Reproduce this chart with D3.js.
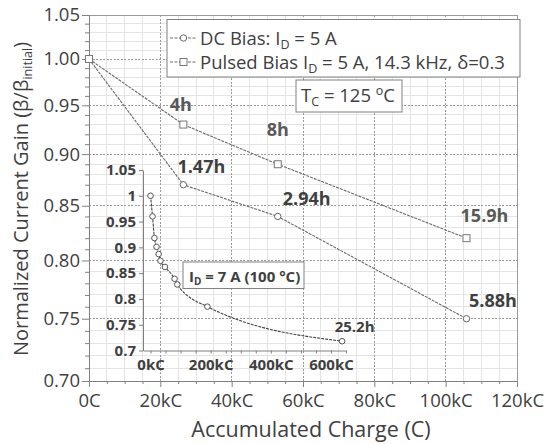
<!DOCTYPE html>
<html>
<head>
<meta charset="utf-8">
<script src="https://cdn.jsdelivr.net/npm/d3@7"></script>
<style>
  html, body { margin: 0; padding: 0; background: #fff; }
  svg { display: block; font-family: "Open Sans", sans-serif; }
</style>
</head>
<body>
<svg id="chart" width="545" height="444"></svg>
<script>
// Accumulated charge (kC) at each stress duration
const chargeKC = [0, 26.46, 52.92, 105.84];
// DC bias, I_D = 5 A
const dcGain = [1.00, 0.87, 0.84, 0.75];
const dcHours = ["", "1.47h", "2.94h", "5.88h"];
// Pulsed bias, I_D = 5 A, 14.3 kHz, duty 0.3
const pulsedGain = [1.00, 0.93, 0.89, 0.82];
const pulsedHours = ["", "4h", "8h", "15.9h"];

// Inset: I_D = 7 A at 100 °C
const insetChargeKC = [0, 6.7, 13, 20, 27, 33, 48, 80, 89, 189, 637];
const insetGain = [1.00, 0.96, 0.918, 0.901, 0.887, 0.874, 0.862, 0.839, 0.828, 0.785, 0.718];
const insetHours = ["", "", "", "", "", "", "", "", "", "", "25.2h"];

// Axis ticks
const xMajorTicks = [0, 20, 40, 60, 80, 100, 120];
const xTickLabels = ["0C", "20kC", "40kC", "60kC", "80kC", "100kC", "120kC"];
const yMajorTicks = [0.70, 0.75, 0.80, 0.85, 0.90, 0.95, 1.00, 1.05];
const yTickLabels = ["0.70", "0.75", "0.80", "0.85", "0.90", "0.95", "1.00", "1.05"];
const insetXTicks = [0, 50, 100, 150, 200, 250, 300, 350, 400, 450, 500, 550, 600, 650];
const insetXLabels = { 0: "0kC", 200: "200kC", 400: "400kC", 600: "600kC" };
const insetYTicks = [0.70, 0.75, 0.80, 0.85, 0.90, 0.95, 1.00, 1.05];
const insetYLabels = ["0.7", "0.75", "0.8", "0.85", "0.9", "0.95", "1", "1.05"];

const svg = d3.select("#chart");
const TEXT = "#404040";
const LINE = "#6a6a6a";

const x = d3.scaleLinear().domain([0, 120]).range([89, 517]);
const y = d3.scaleLog().domain([0.70, 1.05]).range([381, 15]);

const [x0, x1] = x.range();
const [yb, yt] = y.range();

// minor ticks / gridlines
const xMinor = d3.range(5, 120, 5).filter(v => v % 20 !== 0);
const yMinor = d3.range(71, 105).map(v => v / 100).filter(v => Math.round(v * 100) % 5 !== 0);

const grid = svg.append("g");
grid.selectAll(".vmin").data(xMinor).join("line")
  .attr("x1", d => x(d)).attr("x2", d => x(d)).attr("y1", yt).attr("y2", yb)
  .attr("stroke", "#e4e4e4").attr("stroke-width", 1).attr("shape-rendering", "crispEdges");
grid.selectAll(".hmin").data(yMinor).join("line")
  .attr("y1", d => y(d)).attr("y2", d => y(d)).attr("x1", x0).attr("x2", x1)
  .attr("stroke", "#e4e4e4").attr("stroke-width", 1).attr("shape-rendering", "crispEdges");
grid.selectAll(".vmaj").data(xMajorTicks.slice(1, -1)).join("line")
  .attr("x1", d => x(d)).attr("x2", d => x(d)).attr("y1", yt).attr("y2", yb)
  .attr("stroke", "#9a9a9a").attr("stroke-dasharray", "2,1.5").attr("shape-rendering", "crispEdges");
grid.selectAll(".hmaj").data(yMajorTicks.slice(1, -1)).join("line")
  .attr("y1", d => y(d)).attr("y2", d => y(d)).attr("x1", x0).attr("x2", x1)
  .attr("stroke", "#9a9a9a").attr("stroke-dasharray", "2,1.5").attr("shape-rendering", "crispEdges");

// plot frame (top and right)
svg.append("path")
  .attr("d", `M${x0},${yt}H${x1}V${yb}`)
  .attr("fill", "none").attr("stroke", "#9a9a9a").attr("shape-rendering", "crispEdges");

// axes
function styleAxis(g) {
  g.selectAll("path.domain").attr("stroke", "#808080");
  g.selectAll(".tick line").attr("stroke", "#808080");
  g.selectAll("text").attr("fill", TEXT).attr("font-family", "'Open Sans', sans-serif");
}

const xAxisMinor = svg.append("g").attr("transform", `translate(0,${yb})`)
  .call(d3.axisBottom(x).tickValues(xMinor).tickSize(3).tickFormat(""));
xAxisMinor.select(".domain").remove();
xAxisMinor.selectAll("line").attr("stroke", "#808080");

const xAxis = svg.append("g").attr("transform", `translate(0,${yb})`)
  .call(d3.axisBottom(x).tickValues(xMajorTicks).tickSize(6).tickSizeOuter(0).tickPadding(7)
    .tickFormat((d, i) => xTickLabels[i]));
xAxis.selectAll("text").attr("font-size", 18.5);
styleAxis(xAxis);

const yAxisMinor = svg.append("g").attr("transform", `translate(${x0},0)`)
  .call(d3.axisLeft(y).tickValues(yMinor).tickSize(4).tickFormat(""));
yAxisMinor.select(".domain").remove();
yAxisMinor.selectAll("line").attr("stroke", "#808080");

const yAxis = svg.append("g").attr("transform", `translate(${x0},0)`)
  .call(d3.axisLeft(y).tickValues(yMajorTicks).tickSize(7).tickSizeOuter(0).tickPadding(2)
    .tickFormat((d, i) => yTickLabels[i]));
yAxis.selectAll("text").attr("font-size", 18.5);
styleAxis(yAxis);

// axis titles
svg.append("text")
  .attr("x", (x0 + x1) / 2 + 8).attr("y", 437)
  .attr("text-anchor", "middle").attr("font-size", 21.5).attr("fill", TEXT)
  .text("Accumulated Charge (C)");

const yTitle = svg.append("text")
  .attr("transform", "rotate(-90)")
  .attr("x", -199).attr("y", 27.5)
  .attr("text-anchor", "middle").attr("font-size", 20).attr("fill", TEXT);
yTitle.append("tspan").text("Normalized Current Gain (β/β");
yTitle.append("tspan").attr("font-size", 12.5).attr("baseline-shift", "-4").text("initial");
yTitle.append("tspan").text(")");

// ---------- inset ----------
const ix = d3.scaleLinear().domain([-25, 650]).range([143, 346]);
const iy = d3.scaleLinear().domain([0.70, 1.05]).range([350.5, 170]);

const ixAxis = svg.append("g").attr("transform", `translate(0,${iy.range()[0]})`)
  .call(d3.axisBottom(ix).tickValues(insetXTicks).tickSize(3).tickSizeOuter(0).tickPadding(6)
    .tickFormat(d => insetXLabels[d] || ""));
ixAxis.selectAll("text").attr("font-size", 15).attr("font-weight", "bold");
styleAxis(ixAxis);

const iyAxis = svg.append("g").attr("transform", `translate(${ix.range()[0]},0)`)
  .call(d3.axisLeft(iy).tickValues(insetYTicks).tickSize(4).tickSizeOuter(0).tickPadding(3)
    .tickFormat((d, i) => insetYLabels[i]));
iyAxis.selectAll("text").attr("font-size", 15).attr("font-weight", "bold");
styleAxis(iyAxis);

const insetPts = insetChargeKC.map((c, i) => ({ c, g: insetGain[i], h: insetHours[i] }));
svg.append("path")
  .datum(insetPts)
  .attr("d", d3.line().x(d => ix(d.c)).y(d => iy(d.g)).curve(d3.curveMonotoneX))
  .attr("fill", "none").attr("stroke", "#444").attr("stroke-width", 1.1)
  .attr("stroke-dasharray", "3,1");
svg.selectAll(".ipt").data(insetPts).join("circle")
  .attr("cx", d => ix(d.c)).attr("cy", d => iy(d.g)).attr("r", 2.8)
  .attr("fill", "#fff").attr("stroke", "#555").attr("stroke-width", 1);
svg.selectAll(".ilab").data(insetPts.filter(d => d.h)).join("text")
  .attr("x", d => ix(d.c) + 12.5).attr("y", d => iy(d.g) - 9.5)
  .attr("text-anchor", "middle").attr("font-size", 15).attr("font-weight", "bold")
  .attr("fill", TEXT).text(d => d.h);

// inset condition box
svg.append("rect").attr("x", 183).attr("y", 262).attr("width", 121).attr("height", 26.5)
  .attr("fill", "#fff").attr("stroke", "#808080");
const idText = svg.append("text").attr("x", 189).attr("y", 281.5)
  .attr("font-size", 15).attr("font-weight", "bold").attr("fill", TEXT);
idText.append("tspan").text("I");
idText.append("tspan").attr("font-size", 10).attr("baseline-shift", "-3").text("D");
idText.append("tspan").text(" = 7 A (100 °C)");

// ---------- main series ----------
const dcPts = chargeKC.map((c, i) => ({ c, g: dcGain[i], h: dcHours[i] }));
const pulsedPts = chargeKC.map((c, i) => ({ c, g: pulsedGain[i], h: pulsedHours[i] }));
const line = d3.line().x(d => x(d.c)).y(d => y(d.g));

[dcPts, pulsedPts].forEach(pts => {
  svg.append("path").datum(pts).attr("d", line)
    .attr("fill", "none").attr("stroke", LINE).attr("stroke-width", 1.1)
    .attr("stroke-dasharray", "3,1");
});

svg.selectAll(".dcpt").data(dcPts).join("circle")
  .attr("cx", d => x(d.c)).attr("cy", d => y(d.g)).attr("r", 3.2)
  .attr("fill", "#fff").attr("stroke", "#666").attr("stroke-width", 1);
const sq = 7;
svg.selectAll(".pspt").data(pulsedPts).join("rect")
  .attr("x", d => x(d.c) - sq / 2).attr("y", d => y(d.g) - sq / 2)
  .attr("width", sq).attr("height", sq)
  .attr("fill", "#fff").attr("stroke", "#777").attr("stroke-width", 1);

// duration labels beside each point
const dcOffsets = [null, [18, -12], [29, -11], [26.5, -12]];
const pulsedOffsets = [null, [-2.5, -14], [0, -28], [18, -16]];
svg.selectAll(".dclab").data(dcPts.filter(d => d.h)).join("text")
  .attr("x", (d, i) => x(d.c) + dcOffsets[i + 1][0])
  .attr("y", (d, i) => y(d.g) + dcOffsets[i + 1][1])
  .attr("text-anchor", "middle").attr("font-size", 18).attr("font-weight", "bold")
  .attr("fill", "#3f3f3f").text(d => d.h);
svg.selectAll(".pslab").data(pulsedPts.filter(d => d.h)).join("text")
  .attr("x", (d, i) => x(d.c) + pulsedOffsets[i + 1][0])
  .attr("y", (d, i) => y(d.g) + pulsedOffsets[i + 1][1])
  .attr("text-anchor", "middle").attr("font-size", 18).attr("font-weight", "bold")
  .attr("fill", "#595959").text(d => d.h);

// ---------- legend ----------
const legend = svg.append("g");
legend.append("rect").attr("x", 167).attr("y", 19.5).attr("width", 353).attr("height", 57.5)
  .attr("fill", "#fff").attr("stroke", "#808080");

const rows = [
  { y: 44.5, mark: "circle", parts: [["DC Bias: I"], ["D", "sub"], [" = 5 A"]] },
  { y: 68.5, mark: "square", parts: [["Pulsed Bias I"], ["D", "sub"], [" = 5 A, 14.3 kHz, δ=0.3"]] }
];
rows.forEach(r => {
  const cy = r.y - 6.5;
  legend.append("line").attr("x1", 170).attr("x2", 197).attr("y1", cy).attr("y2", cy)
    .attr("stroke", LINE).attr("stroke-dasharray", "3,1.5");
  if (r.mark === "circle") {
    legend.append("circle").attr("cx", 183.5).attr("cy", cy).attr("r", 3.2)
      .attr("fill", "#fff").attr("stroke", "#666");
  } else {
    legend.append("rect").attr("x", 183.5 - sq / 2).attr("y", cy - sq / 2)
      .attr("width", sq).attr("height", sq).attr("fill", "#fff").attr("stroke", "#777");
  }
  const t = legend.append("text").attr("x", 200).attr("y", r.y)
    .attr("font-size", 18.5).attr("fill", TEXT);
  r.parts.forEach(([s, shift]) => {
    const ts = t.append("tspan").text(s);
    if (shift) ts.attr("font-size", 12.5).attr("baseline-shift", "-3.5");
  });
});

// case temperature box
svg.append("rect").attr("x", 296).attr("y", 80).attr("width", 106).attr("height", 32)
  .attr("fill", "#fff").attr("stroke", "#808080");
const tc = svg.append("text").attr("x", 301).attr("y", 101.5)
  .attr("font-size", 18.5).attr("fill", TEXT);
tc.append("tspan").text("T");
tc.append("tspan").attr("font-size", 12.5).attr("baseline-shift", "-3.5").text("C");
tc.append("tspan").text(" = 125 ");
tc.append("tspan").attr("font-size", 12.5).attr("baseline-shift", "7").text("o");
tc.append("tspan").text("C");
</script>
</body>
</html>
